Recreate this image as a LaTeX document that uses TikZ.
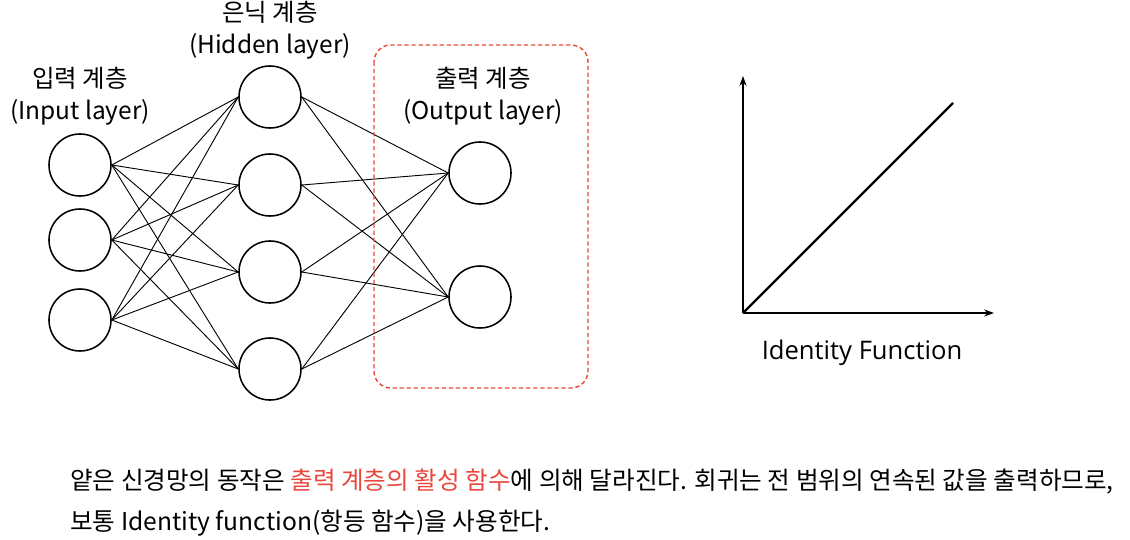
\documentclass[tikz,border=0pt]{standalone}
\usepackage{fontspec}
\setmainfont{Noto Sans CJK KR}
\newfontfamily\idfont{Open Sans}
\usetikzlibrary{arrows.meta}
\definecolor{outred}{RGB}{232,72,60}

\begin{document}
\begin{tikzpicture}[x=0.025cm,y=-0.025cm]
\useasboundingbox (0,0) rectangle (1130,539);
\tikzset{neuron/.style={draw,line width=1.1pt,circle,minimum size=1.55cm,inner sep=0pt},
  layername/.style={align=center,font=\fontsize{17.4}{22.5}\selectfont},
  link/.style={line width=0.65pt}}
% neurons
\foreach \i/\y in {1/165,2/240,3/320}{\node[neuron] (in\i) at (80,\y) {};}
\foreach \i/\y in {1/97,2/185,3/272,4/369}{\node[neuron] (hid\i) at (270,\y) {};}
\foreach \i/\y in {1/173,2/297}{\node[neuron] (out\i) at (480,\y) {};}
\foreach \a in {1,2,3}{\foreach \b in {1,2,3,4}{\draw[link] (in\a.east)--(hid\b.west);}}
\foreach \a in {1,2,3,4}{\foreach \b in {1,2}{\draw[link] (hid\a.east)--(out\b.west);}}
\draw[outred,dash pattern=on 3pt off 2pt,line width=1pt,rounded corners=12pt] (374,45) rectangle (588,388);
\node[layername] (inname) at (80,96) {입력 계층\\(Input layer)};
\node[layername] (hidname) at (270,30) {은닉 계층\\(Hidden layer)};
\node[layername] (outname) at (483,96) {출력 계층\\(Output layer)};
% identity graph
\coordinate (O) at (743,313);
\coordinate (ytop) at (743,76);
\coordinate (xend) at (994,313);
\coordinate (lineend) at (953,103);
\draw[line width=1pt,-{Stealth[length=7pt,width=5pt]}] (O)--(ytop);
\draw[line width=1pt,-{Stealth[length=7pt,width=5pt]}] (O)--(xend);
\draw[line width=1.7pt] (O)--(lineend);
\node[font=\idfont\fontsize{18.2}{22}\selectfont] (idname) at (862,353) {Identity Function};
% text
\node[anchor=base west,inner sep=0pt,font=\fontsize{17.5}{22}\selectfont] (line1) at (70,489)
  {얕은 신경망의 동작은 \textcolor{outred}{출력 계층의 활성 함수}에 의해 달라진다. 회귀는 전 범위의 연속된 값을 출력하므로,};
\node[anchor=base west,inner sep=0pt,font=\fontsize{17.5}{22}\selectfont] (line2) at (70,530)
  {보통 Identity function(항등 함수)을 사용한다.};
\end{tikzpicture}
\end{document}
